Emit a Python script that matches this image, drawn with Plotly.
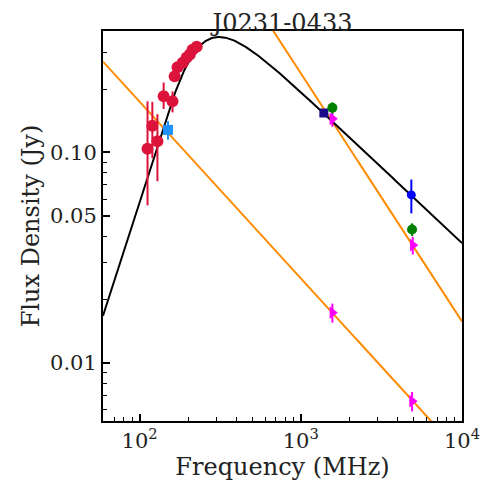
import numpy as np
import plotly.graph_objects as go

# ---------------- data ----------------
red_freq = [112, 120, 129, 141, 160, 165, 172, 185, 196, 205, 213, 226]
red_flux = [0.104, 0.134, 0.113, 0.185, 0.175, 0.230, 0.254, 0.267, 0.283, 0.292, 0.308, 0.318]
red_err_up = [0.071, 0.04, 0.039, 0.03, 0.02, 0.012, 0.012, 0.012, 0.012, 0.012, 0.012, 0.012]
red_err_dn = [0.048, 0.04, 0.040, 0.024, 0.02, 0.012, 0.012, 0.012, 0.012, 0.012, 0.012, 0.012]

tgss_freq = [150]
tgss_flux = [0.128]
tgss_err = [0.013]

nvss_freq = [1390]
nvss_flux = [0.154]
nvss_err = [0.005]

green_freq = [1570, 4900]
green_flux = [0.163, 0.043]
green_err = [0.01, 0.003]

blue_freq = [4850]
blue_flux = [0.0628]
blue_err = [0.0115]

mag_freq = [1570, 4950, 1570, 4900]
mag_flux = [0.1445, 0.0362, 0.0173, 0.00656]
mag_err = [0.012, 0.0035, 0.0018, 0.0007]

# model parameters (peaked spectrum fit and two power laws)
curve_amp = 0.528
curve_nu0 = 250.0
alpha_thick = 2.4
alpha_thin = -0.72
pl1_s1ghz, pl1_alpha = 0.0252, -0.84
pl2_s1ghz, pl2_alpha = 0.238, -1.18

x_range = [59.3, 10000]
y_range = [0.00528, 0.378]

title_text = "J0231-0433"
x_title = "Frequency (MHz)"
y_title = "Flux Density (Jy)"

# ---------------- figure ----------------
nu = np.logspace(np.log10(x_range[0]), np.log10(x_range[1]), 400)
xx = nu / curve_nu0
model = curve_amp * xx ** alpha_thick * (1 - np.exp(-xx ** (alpha_thin - alpha_thick)))
pl1 = pl1_s1ghz * (nu / 1000.0) ** pl1_alpha
pl2 = pl2_s1ghz * (nu / 1000.0) ** pl2_alpha

orange = "#ff8c00"
fig = go.Figure()
fig.add_trace(go.Scatter(x=nu, y=pl1, mode="lines", line=dict(color=orange, width=2)))
fig.add_trace(go.Scatter(x=nu, y=pl2, mode="lines", line=dict(color=orange, width=2)))
fig.add_trace(go.Scatter(x=nu, y=model, mode="lines", line=dict(color="black", width=2)))


def pts(x, y, color, symbol, size, up, dn=None):
    e = dict(type="data", array=up, color=color, thickness=2, width=0)
    if dn is not None:
        e["symmetric"] = False
        e["arrayminus"] = dn
    fig.add_trace(go.Scatter(x=x, y=y, mode="markers",
                             marker=dict(color=color, symbol=symbol, size=size, line=dict(width=0)),
                             error_y=e))


pts(red_freq, red_flux, "#dc143c", "circle", 12, red_err_up, red_err_dn)
pts(tgss_freq, tgss_flux, "#1e90ff", "square", 10, tgss_err)
pts(mag_freq, mag_flux, "#ff00ff", "triangle-right", 11, mag_err)
pts(nvss_freq, nvss_flux, "#1a0a8a", "square", 9, nvss_err)
pts(green_freq, green_flux, "#008000", "circle", 10, green_err)
pts(blue_freq, blue_flux, "#0000ff", "circle", 9, blue_err)

font_family = "DejaVu Serif"

x_minor = [v * 10 ** d for d in (1, 2, 3) for v in range(2, 10) if x_range[0] <= v * 10 ** d <= x_range[1]]
y_minor = [v * 10 ** d for d in (-3, -2, -1) for v in range(2, 10)
           if y_range[0] <= v * 10 ** d <= y_range[1] and abs(v * 10 ** d - 0.05) > 1e-9]

fig.update_layout(
    width=492, height=484,
    margin=dict(l=103, r=30, t=31, b=58),
    paper_bgcolor="white", plot_bgcolor="white",
    showlegend=False,
    font=dict(family=font_family, color="#222222"),
    title=dict(text=title_text, x=0.5, xanchor="center", xref="paper",
               y=1 - 31 / 484, yref="container", yanchor="bottom",
               font=dict(size=24, family=font_family, color="#222222")),
    xaxis=dict(type="log", range=[np.log10(x_range[0]), np.log10(x_range[1])],
               showgrid=False, zeroline=False,
               showline=True, linecolor="black", linewidth=2, mirror=True,
               ticks="inside", ticklen=7, tickwidth=1.5, tickcolor="black",
               tickvals=[100, 1000, 10000],
               ticktext=["10<sup>2</sup>", "10<sup>3</sup>", "10<sup>4</sup>"],
               tickfont=dict(size=21),
               minor=dict(tickvals=x_minor, ticks="inside", ticklen=4, tickwidth=1, tickcolor="black", showgrid=False),
               title=dict(text=x_title, font=dict(size=24), standoff=2)),
    yaxis=dict(type="log", range=[np.log10(y_range[0]), np.log10(y_range[1])],
               showgrid=False, zeroline=False,
               showline=True, linecolor="black", linewidth=2, mirror=True,
               ticks="inside", ticklen=7, tickwidth=1.5, tickcolor="black",
               tickvals=[0.01, 0.05, 0.1], ticktext=["0.01", "0.05", "0.10"],
               tickfont=dict(size=21),
               minor=dict(tickvals=y_minor, ticks="inside", ticklen=4, tickwidth=1, tickcolor="black", showgrid=False),
               title=dict(text=y_title, font=dict(size=24), standoff=4)),
)

fig.write_html("out.html")
